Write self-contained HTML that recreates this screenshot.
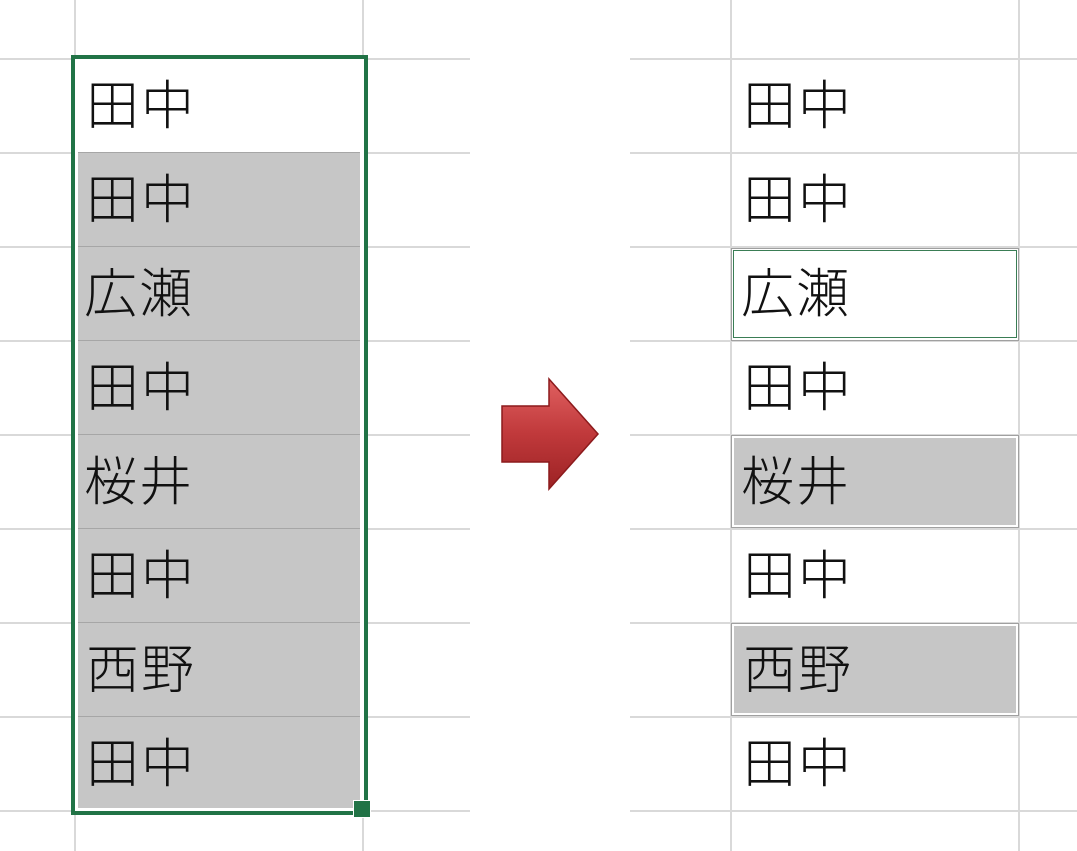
<!DOCTYPE html>
<html><head><meta charset="utf-8"><style>
body{margin:0;width:1077px;height:851px;background:#fff;position:relative;overflow:hidden;font-family:"Liberation Sans","Noto Sans CJK JP",sans-serif}
.a{position:absolute}
.h{position:absolute;height:2px;background:#d9d9d9}
.v{position:absolute;width:2px;background:#d9d9d9;top:0;height:851px}
.t{position:absolute;font-size:53px;line-height:94px;height:94px;color:#111;font-weight:300;letter-spacing:2px;margin-top:2px}
</style></head><body>
<div class="v" style="left:74px"></div><div class="v" style="left:362px"></div>
<div class="h" style="left:0;width:470px;top:58px"></div>
<div class="h" style="left:0;width:470px;top:152px"></div>
<div class="h" style="left:0;width:470px;top:246px"></div>
<div class="h" style="left:0;width:470px;top:340px"></div>
<div class="h" style="left:0;width:470px;top:434px"></div>
<div class="h" style="left:0;width:470px;top:528px"></div>
<div class="h" style="left:0;width:470px;top:622px"></div>
<div class="h" style="left:0;width:470px;top:716px"></div>
<div class="h" style="left:0;width:470px;top:810px"></div>
<div class="v" style="left:730px"></div><div class="v" style="left:1018px"></div>
<div class="h" style="left:630px;width:447px;top:58px"></div>
<div class="h" style="left:630px;width:447px;top:152px"></div>
<div class="h" style="left:630px;width:447px;top:246px"></div>
<div class="h" style="left:630px;width:447px;top:340px"></div>
<div class="h" style="left:630px;width:447px;top:434px"></div>
<div class="h" style="left:630px;width:447px;top:528px"></div>
<div class="h" style="left:630px;width:447px;top:622px"></div>
<div class="h" style="left:630px;width:447px;top:716px"></div>
<div class="h" style="left:630px;width:447px;top:810px"></div>
<div class="a" style="left:71px;top:55px;width:297px;height:760px;background:#fff"></div>
<div class="a" style="left:78px;top:152px;width:282px;height:656px;background:#c6c6c6"></div>
<div class="a" style="left:78px;top:246px;width:282px;height:1px;background:#a6a6a6"></div>
<div class="a" style="left:78px;top:340px;width:282px;height:1px;background:#a6a6a6"></div>
<div class="a" style="left:78px;top:434px;width:282px;height:1px;background:#a6a6a6"></div>
<div class="a" style="left:78px;top:528px;width:282px;height:1px;background:#a6a6a6"></div>
<div class="a" style="left:78px;top:622px;width:282px;height:1px;background:#a6a6a6"></div>
<div class="a" style="left:78px;top:716px;width:282px;height:1px;background:#a6a6a6"></div>
<div class="a" style="left:78px;top:152px;width:282px;height:1px;background:#a6a6a6"></div>
<div class="a" style="left:71px;top:55px;width:289px;height:752px;border:4px solid #217346"></div>
<div class="a" style="left:353px;top:800px;width:16px;height:16px;background:#217346;border:1px solid #fff"></div>
<div class="t" style="left:86px;top:58px">田中</div>
<div class="t" style="left:86px;top:152px">田中</div>
<div class="t" style="left:84px;top:246px">広瀬</div>
<div class="t" style="left:86px;top:340px">田中</div>
<div class="t" style="left:84px;top:434px">桜井</div>
<div class="t" style="left:86px;top:528px">田中</div>
<div class="t" style="left:86px;top:622px">西野</div>
<div class="t" style="left:86px;top:716px">田中</div>
<div class="a" style="left:731px;top:248px;width:286px;height:91px;border:1px solid #a0a0a0;background:#fff"></div>
<div class="a" style="left:733px;top:250px;width:282px;height:86px;border:1.5px solid #3a7d55"></div>
<div class="a" style="left:731px;top:435px;width:286px;height:91px;border:1px solid #a0a0a0;background:#c6c6c6;box-shadow:inset 0 0 0 2px #fff"></div>
<div class="a" style="left:731px;top:623px;width:286px;height:91px;border:1px solid #a0a0a0;background:#c6c6c6;box-shadow:inset 0 0 0 2px #fff"></div>
<div class="t" style="left:743px;top:58px">田中</div>
<div class="t" style="left:743px;top:152px">田中</div>
<div class="t" style="left:741px;top:246px">広瀬</div>
<div class="t" style="left:743px;top:340px">田中</div>
<div class="t" style="left:741px;top:434px">桜井</div>
<div class="t" style="left:743px;top:528px">田中</div>
<div class="t" style="left:743px;top:622px">西野</div>
<div class="t" style="left:743px;top:716px">田中</div>
<svg class="a" style="left:0;top:0" width="1077" height="851">
<defs><linearGradient id="g" x1="0" y1="0" x2="0" y2="1"><stop offset="0" stop-color="#e06060"/><stop offset="0.5" stop-color="#c0393b"/><stop offset="1" stop-color="#9c2224"/></linearGradient></defs>
<polygon points="502,406 549,406 549,379 598,434 549,489 549,462 502,462" fill="url(#g)" stroke="#8c1a1c" stroke-width="1.5"/>
</svg>
</body></html>
